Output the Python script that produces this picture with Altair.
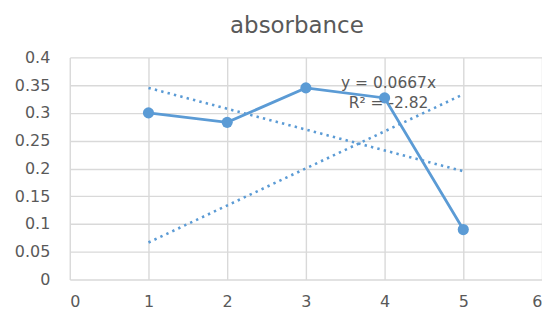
import altair as alt
import pandas as pd

# data
x_vals = [1, 2, 3, 4, 5]
absorbance = [0.300, 0.283, 0.345, 0.327, 0.090]

trend_x = [1, 5]
trend_origin = [0.0667, 0.3335]   # y = 0.0667x
trend_linear = [0.345, 0.195]     # linear fit

eq_lines = ["y = 0.0667x", "R² = -2.82"]
eq_x = [4.05, 4.05]
eq_y = [0.344, 0.308]

x_ticks = [0, 1, 2, 3, 4, 5, 6]
y_ticks = [0, 0.05, 0.1, 0.15, 0.2, 0.25, 0.3, 0.35, 0.4]

FONT = "DejaVu Sans"
BLUE = "#5b9bd5"
GREY = "#595959"

df = pd.DataFrame({"x": x_vals, "y": absorbance})
trend_df = pd.DataFrame({
    "x": trend_x * 2,
    "y": trend_origin + trend_linear,
    "s": ["origin"] * 2 + ["linear"] * 2,
})
eq_df = pd.DataFrame({"t": eq_lines, "x": eq_x, "y": eq_y})

xs = alt.Scale(domain=[0, 6], nice=False)
ys = alt.Scale(domain=[0, 0.4], nice=False)
xax = alt.Axis(values=x_ticks, title=None, labelFontSize=16, labelPadding=14,
               format="d", labelOverlap=False)
yax = alt.Axis(values=y_ticks, title=None, labelFontSize=16, labelPadding=20,
               format="~g", labelOverlap=False, tickCount=9)

X = alt.X("x:Q", scale=xs, axis=xax)
Y = alt.Y("y:Q", scale=ys, axis=yax)

line = alt.Chart(df).mark_line(color=BLUE, strokeWidth=2.8).encode(x=X, y=Y)
pts = alt.Chart(df).mark_circle(color=BLUE, opacity=1, size=125).encode(x=X, y=Y)
trend = alt.Chart(trend_df).mark_line(
    color=BLUE, strokeWidth=2.6, strokeDash=[2.4, 4.2]
).encode(x=X, y=Y, detail="s:N")
eq = alt.Chart(eq_df).mark_text(
    font=FONT, fontSize=15.5, color=GREY, baseline="alphabetic", align="center"
).encode(x=X, y=Y, text="t:N")

chart = alt.layer(trend, line, pts, eq).properties(
    width=474,
    height=223,
    title=alt.TitleParams(
        "absorbance", fontSize=23, font=FONT, color=GREY, fontWeight="normal",
        anchor="middle", offset=11, dx=-9,
    ),
    autosize=alt.AutoSizeParams(type="none"),
    padding={"left": 62, "top": 49, "right": 0, "bottom": 31},
).configure_view(
    stroke=None
).configure_axis(
    domain=False, ticks=False, grid=True, gridColor="#d9d9d9", gridWidth=1.4,
    labelColor=GREY, labelFont=FONT,
)

chart.save("out.html", embed_options={"renderer": "svg", "actions": False})
